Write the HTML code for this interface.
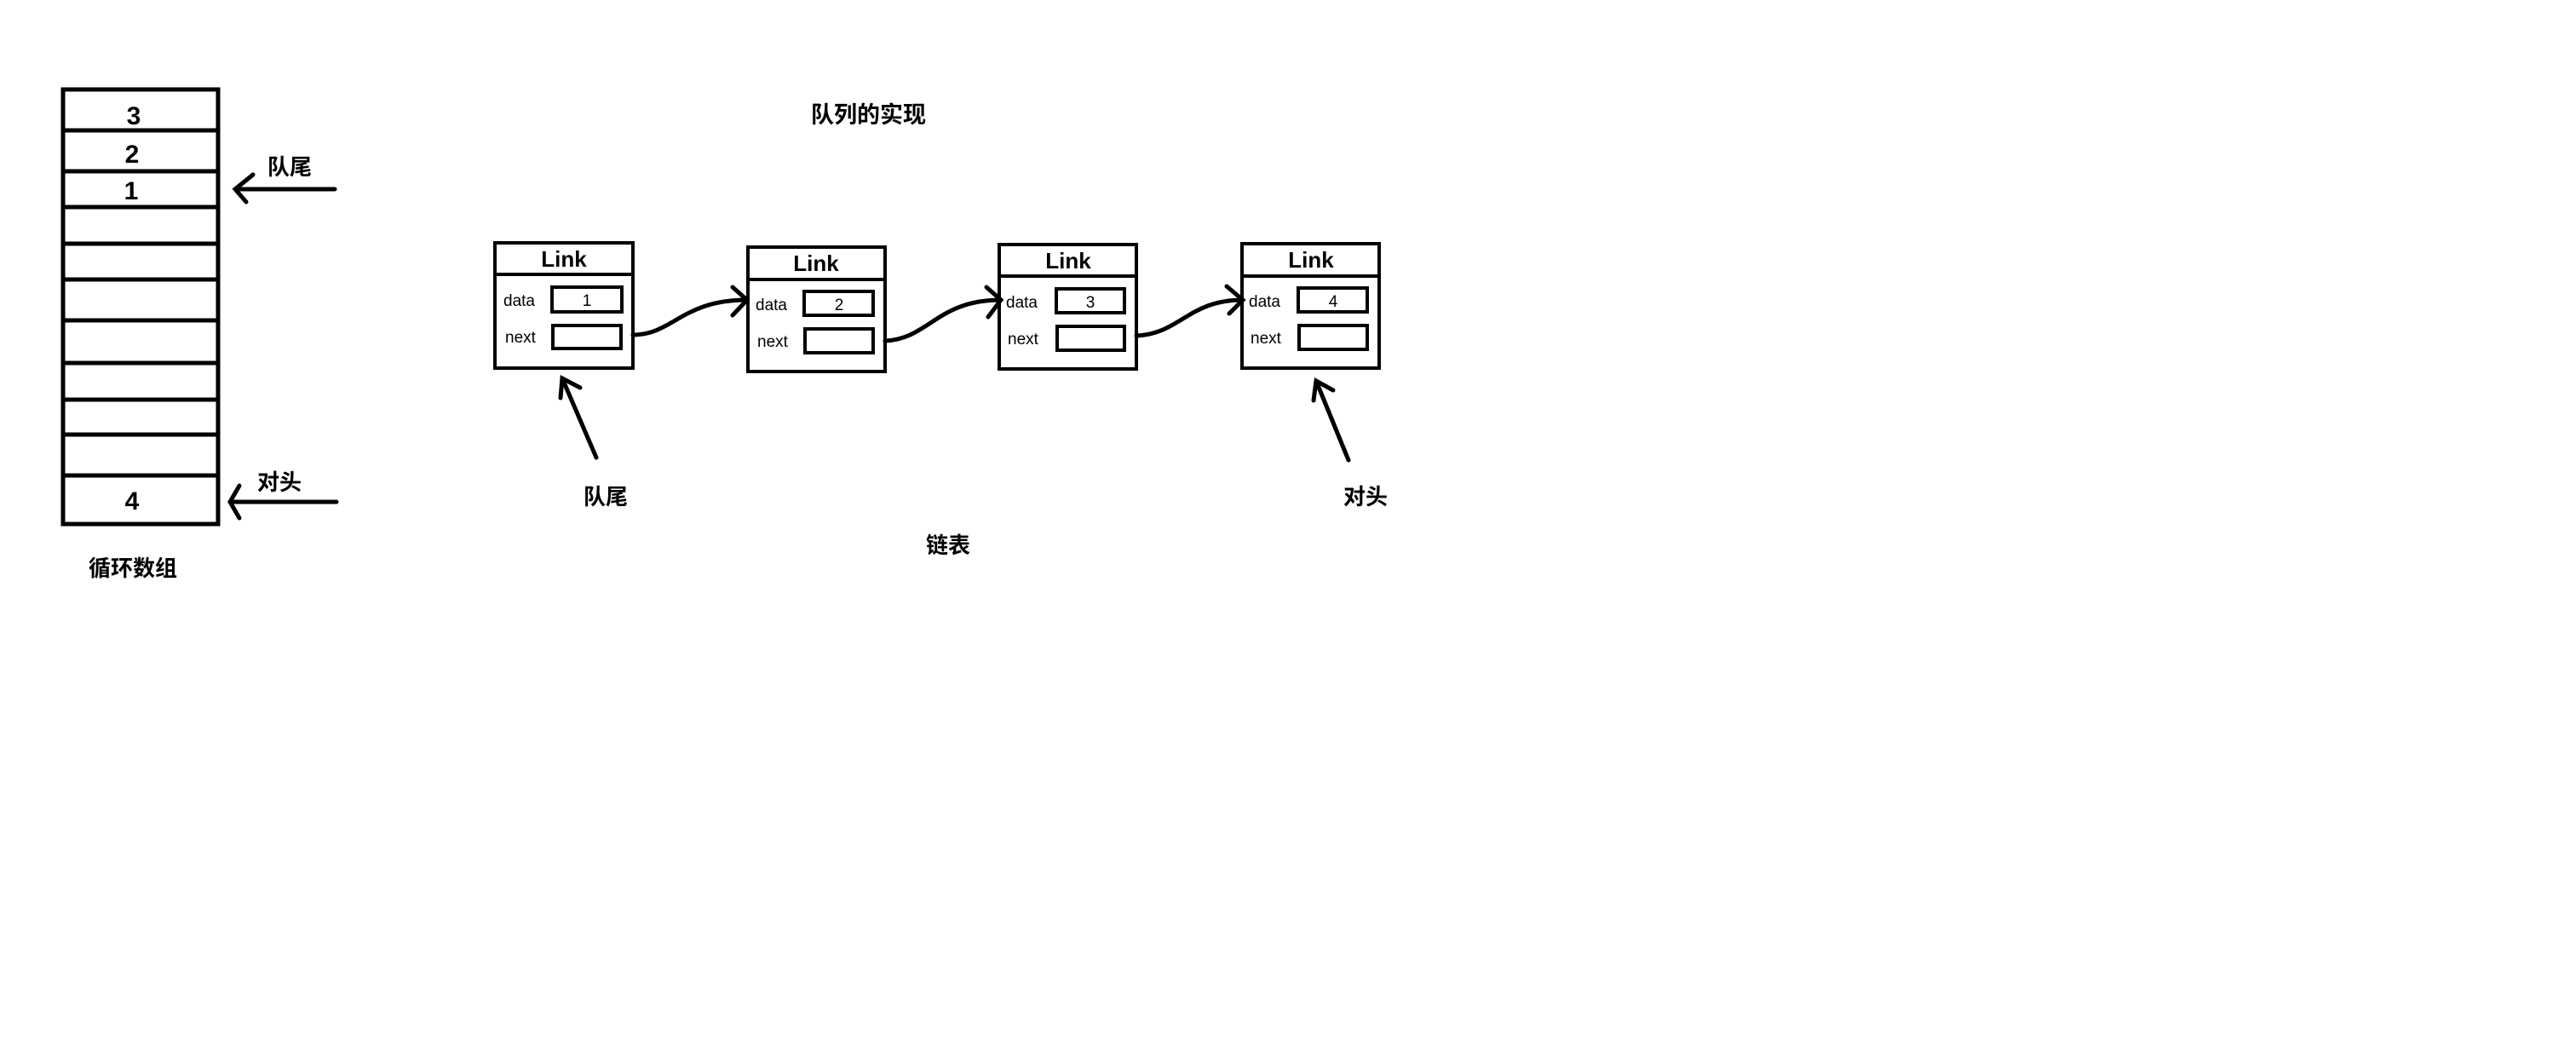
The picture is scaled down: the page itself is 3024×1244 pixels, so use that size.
<!DOCTYPE html>
<html><head><meta charset="utf-8"><style>
html,body{margin:0;padding:0;background:#fff;}
svg{display:block}
text{font-family:"Liberation Sans","Noto Sans CJK SC",sans-serif;fill:#000}
.b{font-weight:bold}
</style></head><body>
<svg width="3024" height="1244" viewBox="0 0 3024 1244" xmlns="http://www.w3.org/2000/svg">
<g fill="none" stroke="#000" stroke-width="5">
<rect x="74" y="105" width="182" height="510"/>
<line x1="74" y1="153" x2="256" y2="153"/>
<line x1="74" y1="201" x2="256" y2="201"/>
<line x1="74" y1="243" x2="256" y2="243"/>
<line x1="74" y1="286" x2="256" y2="286"/>
<line x1="74" y1="328" x2="256" y2="328"/>
<line x1="74" y1="376" x2="256" y2="376"/>
<line x1="74" y1="426" x2="256" y2="426"/>
<line x1="74" y1="469" x2="256" y2="469"/>
<line x1="74" y1="510" x2="256" y2="510"/>
<line x1="74" y1="558" x2="256" y2="558"/>
</g>
<g stroke="#000" stroke-width="5" stroke-linecap="round" fill="none">
<path d="M393 222 L276 222 M297 205 L276 222 L289 237"/>
<path d="M395 589 L270 589 M281 570 L270 589 L281 608"/>
</g>
<g class="b" font-size="30" text-anchor="middle">
<text x="157" y="146">3</text>
<text x="155" y="191">2</text>
<text x="154" y="234">1</text>
<text x="155" y="598">4</text>
</g>
<g class="b" font-size="26">
<text x="314" y="205">队尾</text>
<text x="302" y="575">对头</text>
<text x="104" y="676">循环数组</text>
<text x="952" y="144" font-size="27">队列的实现</text>
<text x="685" y="592">队尾</text>
<text x="1577" y="592">对头</text>
<text x="1087" y="649">链表</text>
</g>
<g fill="none" stroke="#000" stroke-width="4">
<rect x="581" y="285" width="162" height="147"/><line x1="581" y1="322" x2="743" y2="322"/>
<rect x="648" y="337" width="82" height="29"/><rect x="649" y="382" width="80" height="27"/>
<rect x="878" y="290" width="161" height="146"/><line x1="878" y1="328" x2="1039" y2="328"/>
<rect x="944" y="342" width="81" height="28"/><rect x="945" y="386" width="80" height="28"/>
<rect x="1173" y="287" width="161" height="146"/><line x1="1173" y1="324" x2="1334" y2="324"/>
<rect x="1240" y="339" width="80" height="28"/><rect x="1241" y="383" width="79" height="28"/>
<rect x="1458" y="286" width="161" height="146"/><line x1="1458" y1="324" x2="1619" y2="324"/>
<rect x="1524" y="338" width="81" height="28"/><rect x="1525" y="382" width="80" height="28"/>
</g>
<g class="b" font-size="26" text-anchor="middle">
<text x="662" y="313">Link</text>
<text x="958" y="318">Link</text>
<text x="1254" y="315">Link</text>
<text x="1539" y="314">Link</text>
</g>
<g font-size="19">
<text x="591" y="359">data</text><text x="593" y="402">next</text>
<text x="887" y="364">data</text><text x="889" y="407">next</text>
<text x="1181" y="361">data</text><text x="1183" y="404">next</text>
<text x="1466" y="360">data</text><text x="1468" y="403">next</text>
</g>
<g font-size="19" text-anchor="middle">
<text x="689" y="359">1</text><text x="985" y="364">2</text><text x="1280" y="361">3</text><text x="1565" y="360">4</text>
</g>
<g stroke="#000" stroke-width="5" stroke-linecap="round" fill="none">
<path d="M743 393 C790 393 800 352 877 352 M860 337 L877 352 L860 370"/>
<path d="M1039 400 C1090 398 1100 352 1175 352 M1158 337 L1175 352 L1160 372"/>
<path d="M1334 394 C1385 392 1395 352 1459 352 M1440 336 L1459 352 L1443 368"/>
<path d="M700 537 L660 444 M658 467 L660 444 L681 455"/>
<path d="M1583 540 L1545 447 M1542 470 L1545 447 L1565 458"/>
</g>
</svg>
</body></html>
